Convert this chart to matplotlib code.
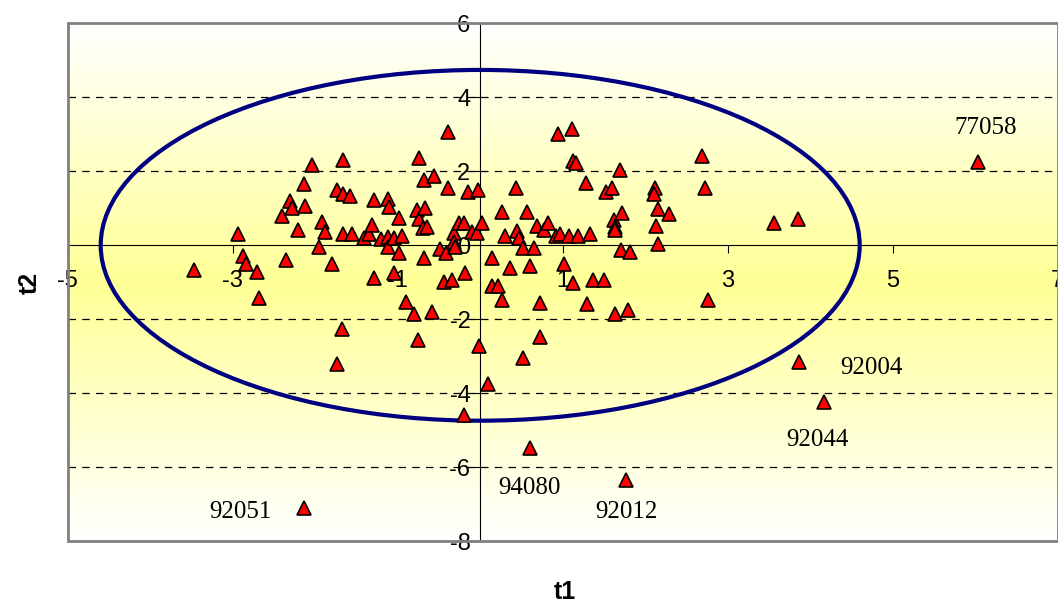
import numpy as np
import matplotlib.pyplot as plt
from matplotlib.patches import Ellipse, Rectangle
from matplotlib.colors import LinearSegmentedColormap

# scores (t1, t2)
t1 = [-3.47, -2.94, -2.87, -2.84, -2.70, -2.68, -2.40, -2.31, -2.28, -2.21,
      -2.14, -2.12, -2.04, -2.36, -1.95, -1.92, -1.88, -1.80, -1.74, -1.68,
      -1.73, -1.66, -1.66, -1.58, -1.66, -1.56, -1.41, -1.35, -1.31, -1.29,
      -1.29, -1.20, -1.12, -1.10, -1.12, -1.12, -1.04, -1.05, -0.98, -0.95,
      -0.98, -0.90, -0.80, -0.59, -0.76, -0.77, -0.74, -0.67, -0.69, -0.64,
      -0.74, -0.68, -0.56, -0.39, -0.39, -0.68, -0.49, -0.42, -0.32, -0.32,
      -0.30, -0.26, -0.20, -0.10, -0.04, -0.15, -0.03, -0.44, -0.34, -0.18,
      -0.02, -0.20, 0.02,
      0.14, 0.14, 0.22, 0.26, 0.09, 0.26, 0.57, 0.30, 0.45, 0.47,
      0.43, 0.36, 0.60, 0.52, 0.65, 0.69, 0.77, 0.82, 0.72, 0.72,
      0.52, 0.60, 0.92, 0.97, 0.94, 1.11, 1.12, 1.16, 1.01, 1.08,
      1.18, 1.13, 1.28, 1.33, 1.37, 1.50, 1.30, 1.53, 1.60, 1.62,
      1.64, 1.64, 1.72, 1.69, 1.71, 1.81, 1.64, 1.79, 1.77, 2.12,
      2.11, 2.15, 2.29, 2.13, 2.15, 2.69, 2.73, 2.76, 3.56, 3.85,
      3.87, 4.17, 6.03, -2.13]
t2 = [-0.67, 0.31, -0.28, -0.50, -0.71, -1.43, 0.79, 1.20, 1.00, 0.41,
      1.67, 1.07, 2.17, -0.39, -0.05, 0.64, 0.35, -0.50, 1.49, -2.27,
      -3.21, 2.31, 1.39, 1.34, 0.31, 0.31, 0.19, 0.30, 0.54, 1.22,
      -0.89, 0.16, 1.24, 1.04, 0.23, -0.04, 0.19, -0.76, 0.73, 0.25,
      -0.22, -1.52, -1.87, -1.79, -2.56, 0.95, 0.70, 1.00, 0.46, 0.50,
      2.37, 1.76, 1.88, 3.05, 1.54, -0.33, -0.11, -0.22, 0.33, 0.10,
      -0.04, 0.59, 0.59, 0.37, 0.34, 1.45, 1.49, -0.98, -0.94, -0.76,
      -2.72, -4.59, 0.59,
      -0.35, -1.10, -1.10, -1.48, -3.74, 0.91, 0.91, 0.25, 0.40, 0.19,
      1.54, -0.62, -0.56, -0.08, -0.08, 0.52, 0.41, 0.59, -1.55, -2.47,
      -3.05, -5.49, 0.25, 0.31, 3.01, 3.14, 2.28, 2.22, -0.51, 0.25,
      0.25, -1.02, 1.68, 0.31, -0.94, -0.94, -1.59, 1.45, 1.54, 0.68,
      0.50, 0.41, 0.86, 2.03, -0.13, -0.19, -1.87, -1.75, -6.34, 1.54,
      1.39, 0.97, 0.85, 0.52, 0.04, 2.42, 1.54, -1.48, 0.59, 0.70,
      -3.16, -4.23, 2.26, -7.09]

# labelled outliers: name, t1, t2, text offset (pixels)
lab_names = ["92004", "92044", "94080", "92012", "92051", "77058"]
lab_t1 = [3.87, 4.17, 0.60, 1.77, -2.13, 6.03]
lab_t2 = [-3.16, -4.23, -5.49, -6.34, -7.09, 2.26]
lab_off = [(72, -6), (-7, -38), (0, -40), (0, -32), (-64, -4), (8, 34)]

# confidence ellipse semi axes
ell_a = 4.6
ell_b = 4.74

xticks = [-5, -3, -1, 1, 3, 5, 7]
yticks = [-8, -6, -4, -2, 0, 2, 4, 6]

fig = plt.figure(figsize=(10.58, 6.04), dpi=100)
ax = fig.add_axes([0.064, 0.1038, 0.9357, 0.8576])
ax.set_xlim(-5, 7)
ax.set_ylim(-8, 6)

# background gradient
cmap = LinearSegmentedColormap.from_list("bg", ["white", "#ffff96", "white"])
grad = np.linspace(0, 1, 256).reshape(-1, 1)
ax.imshow(grad, cmap=cmap, aspect="auto", extent=(-5, 7, -8, 6), zorder=0)

for y in yticks[1:-1]:
    if y != 0:
        ax.axhline(y, color="black", lw=0.9, ls=(0, (6, 5)), zorder=1)

ax.add_patch(Ellipse((0, 0), 2 * ell_a, 2 * ell_b, fill=False,
                     edgecolor="#000080", lw=3.0, zorder=3))

ax.plot(t1, t2, "^", ms=10, mfc="#ff0000", mec="black", mew=1.2,
        ls="none", zorder=4)

for name, x, y, off in zip(lab_names, lab_t1, lab_t2, lab_off):
    ax.annotate(name, (x, y), xytext=off, textcoords="offset pixels",
                ha="center", va="center", fontsize=18,
                family="Liberation Serif", color="black", zorder=5)

# axes through origin
for s in ["top", "right"]:
    ax.spines[s].set_visible(False)
ax.spines["left"].set_position(("data", 0))
ax.spines["bottom"].set_position(("data", 0))
ax.spines["left"].set_zorder(2)
ax.spines["bottom"].set_zorder(2)
ax.add_patch(Rectangle((0, 0), 1, 1, transform=ax.transAxes, fill=False,
                       edgecolor="#808080", lw=2, zorder=6, clip_on=False))

ax.set_xticks(xticks)
ax.set_xticklabels([str(v) for v in xticks], fontsize=17,
                   family="Liberation Sans")
ax.set_yticks(yticks)
ax.set_yticklabels([str(v) for v in yticks], fontsize=17,
                   family="Liberation Sans")
ax.tick_params(axis="x", direction="out", length=6, pad=12)
ax.tick_params(axis="y", direction="out", length=6, pad=1)

fig.text(565 / 1058, 1 - 592 / 604, "t1", ha="center", va="center",
         fontsize=18, fontweight="bold", family="Liberation Sans")
fig.text(30 / 1058, 1 - 283 / 604, "t2", ha="center", va="center",
         fontsize=18, fontweight="bold", family="Liberation Sans", rotation=90)

fig.savefig("out.png", dpi=100)
